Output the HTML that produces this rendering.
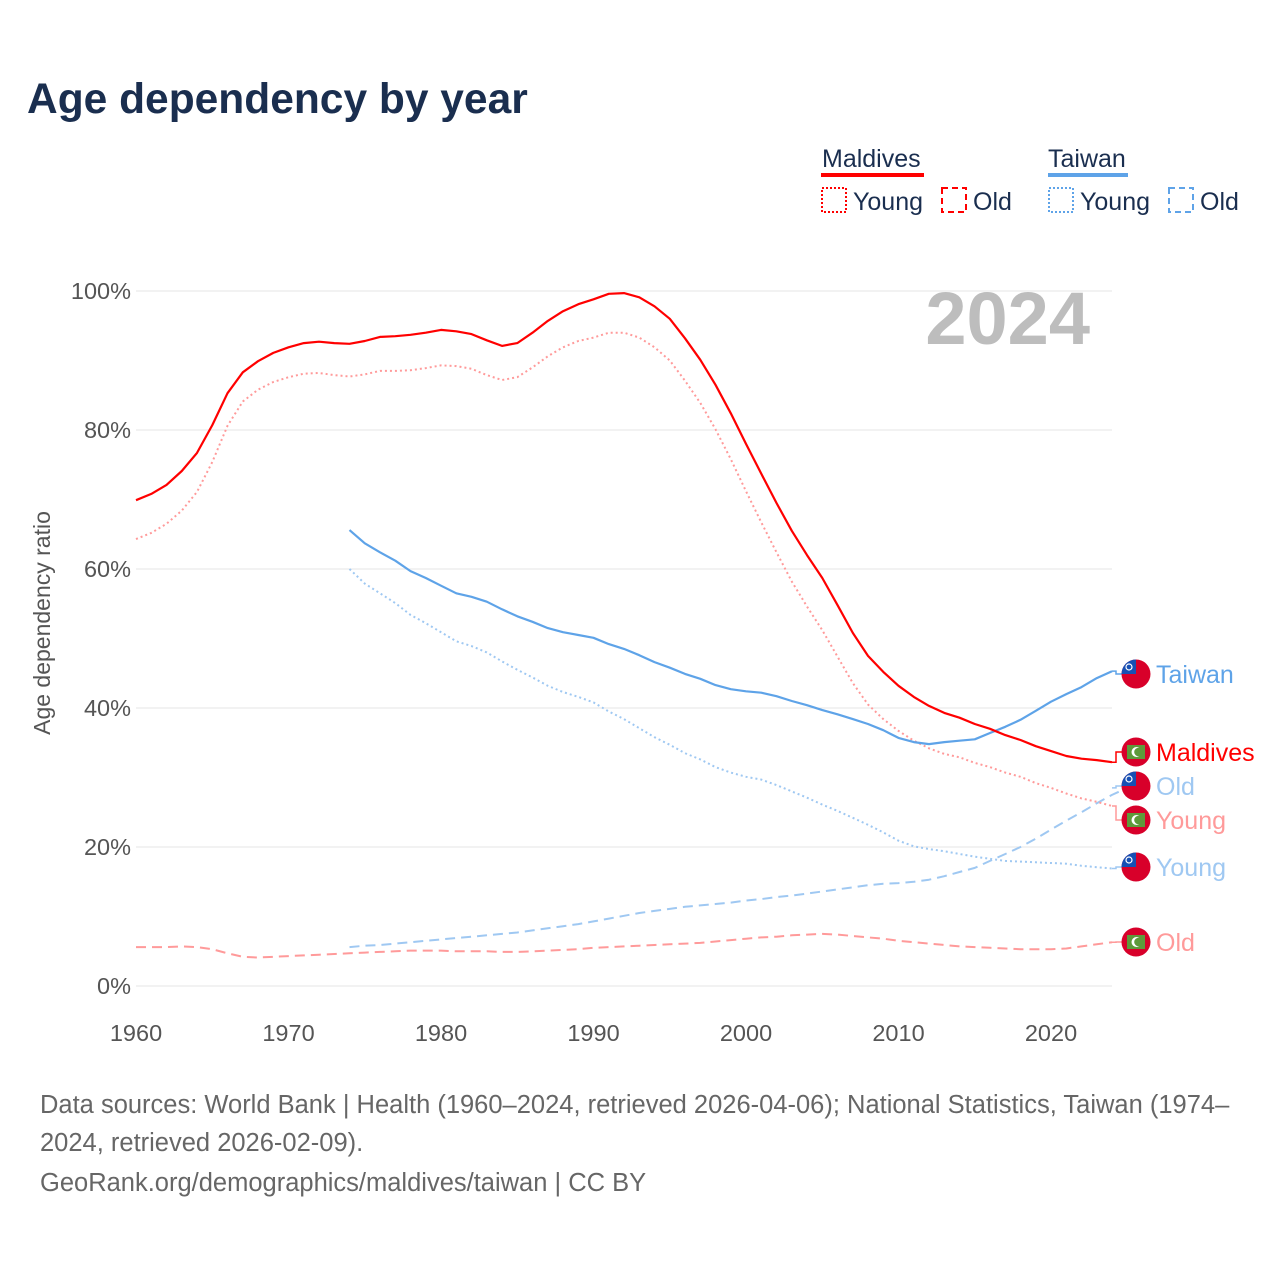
<!DOCTYPE html>
<html><head><meta charset="utf-8"><style>
body{margin:0;background:#fff;font-family:"Liberation Sans",sans-serif}
</style></head><body>
<svg id="c" width="1280" height="1280" xmlns="http://www.w3.org/2000/svg" style="font-family:'Liberation Sans',sans-serif">
<text x="27" y="113" font-size="42.5" font-weight="bold" fill="#1a2e4f">Age dependency by year</text>
<g font-size="25" fill="#1a2e4f">
<text x="822" y="167">Maldives</text>
<rect x="821" y="173" width="103" height="4" fill="#ff0000"/>
<rect x="822" y="188" width="24" height="24" fill="none" stroke="#ff0000" stroke-width="2" stroke-dasharray="2,2"/>
<text x="853" y="210">Young</text>
<rect x="942" y="188" width="24" height="24" fill="none" stroke="#ff0000" stroke-width="2" stroke-dasharray="6,4"/>
<text x="973" y="210">Old</text>
<text x="1048" y="167">Taiwan</text>
<rect x="1048" y="173" width="80" height="4" fill="#5ea3e8"/>
<rect x="1049" y="188" width="24" height="24" fill="none" stroke="#5ea3e8" stroke-width="2" stroke-dasharray="2,2"/>
<text x="1080" y="210">Young</text>
<rect x="1169" y="188" width="24" height="24" fill="none" stroke="#5ea3e8" stroke-width="2" stroke-dasharray="6,4"/>
<text x="1200" y="210">Old</text>
</g>
<text x="1090" y="344" font-size="74" font-weight="bold" fill="#bdbdbd" text-anchor="end">2024</text>
<text transform="translate(50,623) rotate(-90)" font-size="23" fill="#555" text-anchor="middle">Age dependency ratio</text>
<g id="grid"></g><g id="marks"></g><g id="labels"></g>
<g font-size="25.5" fill="#666">
<text x="40" y="1113">Data sources: World Bank | Health (1960–2024, retrieved 2026-04-06); National Statistics, Taiwan (1974–</text>
<text x="40" y="1151">2024, retrieved 2026-02-09).</text>
<text x="40" y="1191">GeoRank.org/demographics/maldives/taiwan | CC BY</text>
</g>
</svg>
<script>
const yTicks=[0,20,40,60,80,100];
const xTicks=[1960,1970,1980,1990,2000,2010,2020];
const mvStart=1960;
const mvTotal=[69.9,70.8,72.1,74.1,76.7,80.7,85.3,88.3,89.9,91.1,91.9,92.5,92.7,92.5,92.4,92.8,93.4,93.5,93.7,94.0,94.4,94.2,93.8,92.9,92.1,92.5,94.0,95.7,97.1,98.1,98.8,99.6,99.7,99.1,97.8,96.0,93.2,90.1,86.5,82.4,78.0,73.7,69.5,65.5,62.0,58.7,54.8,50.8,47.5,45.2,43.2,41.6,40.3,39.3,38.6,37.7,37.0,36.1,35.4,34.5,33.8,33.1,32.7,32.5,32.2];
const mvOld=[5.6,5.6,5.6,5.7,5.6,5.3,4.7,4.2,4.1,4.2,4.3,4.4,4.5,4.6,4.7,4.8,4.9,5.0,5.1,5.1,5.1,5.0,5.0,5.0,4.9,4.9,5.0,5.1,5.2,5.3,5.5,5.6,5.7,5.8,5.9,6.0,6.1,6.2,6.4,6.6,6.8,7.0,7.1,7.3,7.4,7.5,7.4,7.2,7.0,6.8,6.5,6.3,6.1,5.9,5.7,5.6,5.5,5.4,5.3,5.3,5.3,5.4,5.7,6.0,6.3];
const mvYoung=[64.3,65.2,66.5,68.4,71.1,75.4,80.6,84.1,85.8,86.9,87.6,88.1,88.2,87.9,87.7,88.0,88.5,88.5,88.6,88.9,89.3,89.2,88.8,87.9,87.2,87.6,89.0,90.6,91.9,92.8,93.3,94.0,94.0,93.3,91.9,90.0,87.1,83.9,80.1,75.8,71.2,66.7,62.4,58.2,54.6,51.2,47.4,43.6,40.5,38.4,36.7,35.3,34.2,33.4,32.9,32.1,31.5,30.7,30.1,29.2,28.5,27.7,27.0,26.5,25.9];
const twStart=1974;
const twTotal=[65.6,63.7,62.4,61.2,59.7,58.7,57.6,56.5,56.0,55.3,54.2,53.2,52.4,51.5,50.9,50.5,50.1,49.2,48.5,47.6,46.6,45.8,44.9,44.2,43.3,42.7,42.4,42.2,41.7,41.0,40.4,39.7,39.1,38.4,37.7,36.8,35.7,35.1,34.8,35.1,35.3,35.5,36.4,37.3,38.3,39.6,40.9,42.0,43.0,44.3,45.3];
const twOld=[5.6,5.8,5.9,6.1,6.3,6.5,6.7,6.9,7.1,7.3,7.5,7.7,8.0,8.3,8.6,8.9,9.3,9.7,10.1,10.5,10.8,11.1,11.4,11.6,11.8,12.0,12.3,12.5,12.8,13.0,13.3,13.6,13.9,14.2,14.5,14.7,14.8,15.0,15.3,15.8,16.4,17.0,18.0,19.0,20.0,21.2,22.5,23.8,25.0,26.3,27.5,28.5];
const twYoung=[60.0,57.9,56.5,55.1,53.4,52.2,50.9,49.6,48.9,48.0,46.7,45.5,44.4,43.2,42.3,41.6,40.8,39.5,38.4,37.1,35.8,34.7,33.5,32.6,31.5,30.7,30.1,29.7,28.9,28.0,27.1,26.1,25.2,24.2,23.2,22.1,20.9,20.1,19.7,19.4,19.0,18.6,18.3,18.0,17.9,17.8,17.7,17.6,17.3,17.1,16.9];
const X=y=>136+(y-1960)*(1051-136)/60;
const Y=v=>986-v*6.95;
const NS="http://www.w3.org/2000/svg";
function mk(t,a,p){const e=document.createElementNS(NS,t);for(const k in a)e.setAttribute(k,a[k]);p.appendChild(e);return e;}
const grid=document.getElementById('grid');
yTicks.forEach(v=>{
 const l=mk('line',{x1:136,x2:1112,y1:Y(v),y2:Y(v),stroke:'#e6e6e6','stroke-width':1},grid);
 
 
 const t=mk('text',{x:131,y:Y(v)+8,'font-size':23.5,fill:'#555','text-anchor':'end'},grid);
 t.textContent=v+'%';
 
 
});
xTicks.forEach(v=>{
 const t=mk('text',{x:X(v),y:1041,'font-size':23.5,fill:'#555','text-anchor':'middle'},grid);
 t.textContent=v;
 
 
});
const marks=document.getElementById('marks');
function line(arr,start,color,dash,w,name){
 const d=arr.map((v,i)=>(i?'L':'M')+X(start+i).toFixed(1)+','+Y(v).toFixed(1)).join('');
 const p=mk('path',{d:d,fill:'none',stroke:color,'stroke-width':w,'stroke-dasharray':dash,'stroke-linejoin':'round'},marks);
 
 
}
line(mvOld,mvStart,'#ff9a9a','10,6',2,'line-maldives-old');
line(twOld,twStart,'#9fc8f2','10,6',2,'line-taiwan-old');
line(mvYoung,mvStart,'#ff9a9a','2,3',2,'line-maldives-young');
line(twYoung,twStart,'#9fc8f2','2,3',2,'line-taiwan-young');
line(twTotal,twStart,'#5ea3e8','',2.2,'line-taiwan-total');
line(mvTotal,mvStart,'#ff0000','',2.2,'line-maldives-total');
const labels=document.getElementById('labels');
function endLabel(val,ly,color,text,flag,name){
 const x0=X(2024),y0=Y(val);
 const c=mk('path',{d:`M${x0},${y0}L${x0+4},${y0}L${x0+4},${ly}L${x0+10},${ly}`,fill:'none',stroke:color,'stroke-width':1.5},labels);
 
 
 const g=mk('g',{},labels);
 
 
 const cx=1136;
 mk('circle',{cx:cx,cy:ly,r:14.5,fill:'#d8002a'},g);
 if(flag==='tw'){
  mk('path',{d:`M${cx-14.5},${ly} A14.5,14.5 0 0 1 ${cx},${ly-14.5} L${cx},${ly} Z`,fill:'#1650b4'},g);
  mk('circle',{cx:cx-7,cy:ly-7,r:3,fill:'none',stroke:'#fff','stroke-width':1.2},g);
 }else{
  mk('rect',{x:cx-9,y:ly-7,width:18,height:14,fill:'#5e9a3a'},g);
  mk('circle',{cx:cx+0.5,cy:ly,r:5,fill:'#fff'},g);
  mk('circle',{cx:cx+2.5,cy:ly,r:4.3,fill:'#5e9a3a'},g);
 }
 const t=mk('text',{x:1156,y:ly+9,'font-size':25,fill:color},labels);
 t.textContent=text;
 
 
}
endLabel(twTotal[twTotal.length-1],674,'#5ea3e8','Taiwan','tw','label-taiwan');
endLabel(mvTotal[mvTotal.length-1],752,'#ff0000','Maldives','mv','label-maldives');
endLabel(twOld[twOld.length-1],786,'#9fc8f2','Old','tw','label-taiwan-old');
endLabel(mvYoung[mvYoung.length-1],820,'#ff9a9a','Young','mv','label-maldives-young');
endLabel(twYoung[twYoung.length-1],867,'#9fc8f2','Young','tw','label-taiwan-young');
endLabel(mvOld[mvOld.length-1],942,'#ff9a9a','Old','mv','label-maldives-old');
</script>
</body></html>
